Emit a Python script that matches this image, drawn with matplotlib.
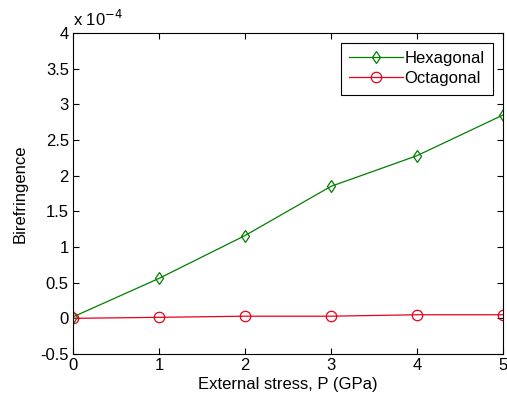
import matplotlib
matplotlib.use("Agg")
import matplotlib.pyplot as plt

plt.rcParams["font.family"] = ["Liberation Sans", "DejaVu Sans"]

# values in units of 1e-4
stress = [0, 1, 2, 3, 4, 5]
hexagonal = [0.02, 0.56, 1.16, 1.85, 2.28, 2.85]
octagonal = [0.0, 0.014, 0.03, 0.03, 0.05, 0.05]
x_ticks = [0, 1, 2, 3, 4, 5]
y_ticks = [-0.5, 0, 0.5, 1, 1.5, 2, 2.5, 3, 3.5, 4]
y_tick_labels = ["-0.5", "0", "0.5", "1", "1.5", "2", "2.5", "3", "3.5", "4"]

fig = plt.figure(figsize=(5.07, 4.0), dpi=100)
ax = fig.add_axes([0.144, 0.115, 0.848, 0.8025])

ax.plot(stress, hexagonal, color="#007f00", lw=0.9, marker="d", ms=6.5,
        mfc="none", mec="#007f00", mew=0.9, label="Hexagonal")
ax.plot(stress, octagonal, color="#e8001c", lw=0.9, marker="o", ms=7.5,
        mfc="none", mec="#e8001c", mew=0.9, label="Octagonal")

ax.set_xlim(0, 5)
ax.set_ylim(-0.5, 4)
ax.set_xticks(x_ticks)
ax.set_yticks(y_ticks)
ax.set_yticklabels(y_tick_labels)
ax.tick_params(direction="in", length=4, width=0.8, top=True, right=True,
               labelsize=12, pad=3)
for spine in ax.spines.values():
    spine.set_linewidth(0.8)

ax.set_xlabel("External stress, P (GPa)", fontsize=12, labelpad=3)
ax.set_ylabel("Birefringence", fontsize=12, labelpad=9)
ax.text(0.0, 1.012, r"x 10$^{-4}$", transform=ax.transAxes, fontsize=12,
        ha="left", va="bottom")

leg = ax.legend(loc="upper right", fontsize=12, fancybox=False,
                edgecolor="black", framealpha=1, handlelength=3.2,
                borderaxespad=0.6, labelspacing=0.3, handletextpad=0.1,
                borderpad=0.5)
leg.get_frame().set_linewidth(0.8)

fig.savefig("out.png", dpi=100)
